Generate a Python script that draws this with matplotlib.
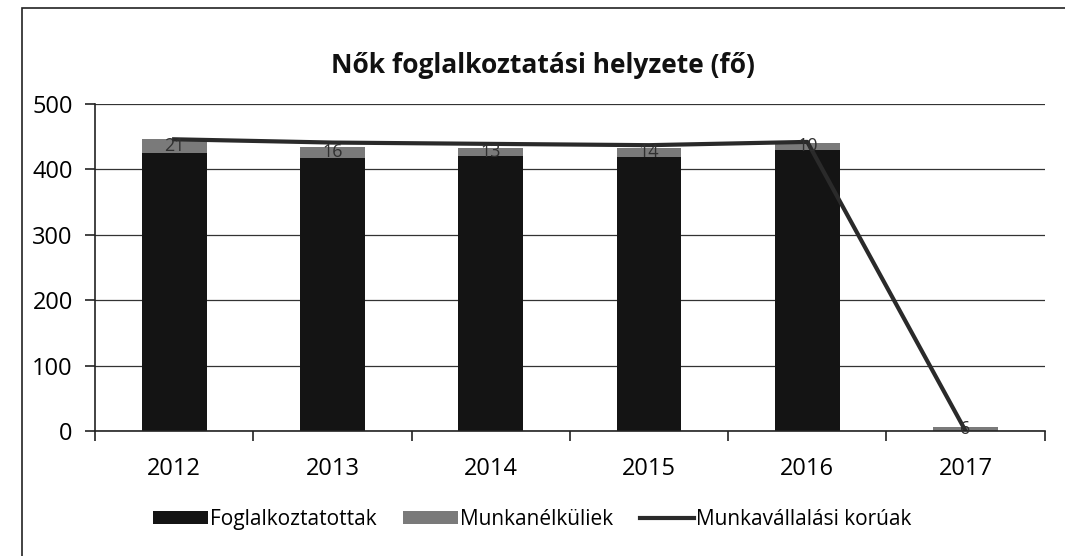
import numpy as np
import matplotlib.pyplot as plt
from matplotlib.patches import Rectangle

plt.rcParams["font.family"] = ["Open Sans", "DejaVu Sans"]

# values
years = ["2012", "2013", "2014", "2015", "2016", "2017"]
foglalkoztatottak = [425, 418, 420, 419, 430, 0]
munkanelkuliek = [21, 16, 13, 14, 10, 6]
munkavallalasi = [446, 441, 439, 437, 442, 0]

x = np.arange(len(years))

fig = plt.figure(figsize=(10.65, 5.56), dpi=100)
ax = fig.add_axes([0.0892, 0.2248, 0.8918, 0.5882])

# chart frame (left and top edge of the scanned box)
fig.patches.append(Rectangle((22 / 1065, -0.05), 1.2, 1 - 8 / 556 + 0.05,
                             transform=fig.transFigure, fill=False,
                             edgecolor="#222222", linewidth=1.2))

ax.set_axisbelow(True)
ax.yaxis.grid(True, color="#333333", linewidth=0.9)

b1 = ax.bar(x, foglalkoztatottak, width=0.41, color="#141414",
            label="Foglalkoztatottak")
b2 = ax.bar(x, munkanelkuliek, width=0.41, bottom=foglalkoztatottak,
            color="#7a7a7a", label="Munkanélküliek")
ln, = ax.plot(x, munkavallalasi, color="#2a2a2a", linewidth=3,
              label="Munkavállalási korúak")

for xi, f, m in zip(x, foglalkoztatottak, munkanelkuliek):
    ax.text(xi, f + m / 2, str(m), ha="center", va="center",
            fontsize=13, color="#303030")

ax.set_xlim(-0.5, len(years) - 0.5)
ax.set_ylim(0, 500)
ax.set_yticks(range(0, 501, 100))
ax.set_xticks(x)
ax.set_xticklabels(years)
ax.set_xticks(np.arange(-0.5, len(years)), minor=True)
ax.tick_params(axis="x", which="major", length=0, pad=19, labelsize=17)
ax.tick_params(axis="x", which="minor", length=7, width=1.2, color="#222222",
               direction="out")
ax.tick_params(axis="y", length=7, width=1.2, color="#222222", labelsize=17,
               pad=9)

for s in ["top", "right"]:
    ax.spines[s].set_visible(False)
ax.spines["left"].set_color("#222222")
ax.spines["bottom"].set_color("#222222")
ax.spines["left"].set_linewidth(1.2)
ax.spines["bottom"].set_linewidth(1.2)

fig.text(0.51, 0.882, "Nők foglalkoztatási helyzete (fő)", ha="center",
         va="center", fontsize=19, fontweight="bold", color="#111111")

fig.legend(handles=[b1, b2, ln], loc="center", bbox_to_anchor=(0.5, 0.066),
           ncol=3, frameon=False, fontsize=15, handlelength=2.6,
           handletextpad=0.1, columnspacing=1.3, handleheight=0.6)

fig.savefig("out.png", dpi=100, facecolor="white")
